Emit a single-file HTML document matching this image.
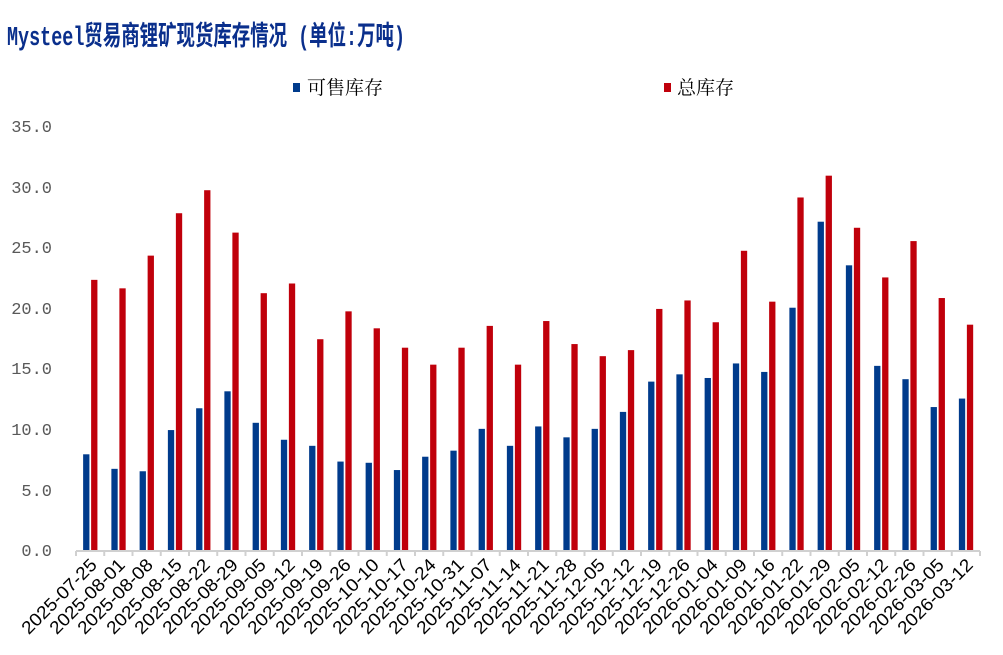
<!DOCTYPE html>
<html><head><meta charset="utf-8"><style>
html,body{margin:0;padding:0;background:#fff;}
svg{display:block;}
</style></head><body>
<svg id="s" width="1003" height="655" xmlns="http://www.w3.org/2000/svg">
<rect width="1003" height="655" fill="#fff"/>
<text x="7" y="45" textLength="398" lengthAdjust="spacingAndGlyphs" font-family="Liberation Mono, Noto Sans CJK SC, sans-serif" font-weight="bold" font-size="27" fill="#0a2f8c">Mysteel贸易商锂矿现货库存情况 (单位:万吨)</text>
<rect x="293" y="83" width="7" height="9" fill="#003b8c"/>
<text x="307" y="94" font-family="Noto Serif CJK SC, serif" font-size="19" fill="#000">可售库存</text>
<rect x="664" y="83" width="7" height="9" fill="#c0000b"/>
<text x="677" y="94" font-family="Noto Serif CJK SC, serif" font-size="19" fill="#000">总库存</text>
<g font-family="Liberation Mono, monospace" font-size="17" fill="#595959" text-anchor="end">
<text x="52" y="132">35.0</text>
<text x="52" y="193">30.0</text>
<text x="52" y="253">25.0</text>
<text x="52" y="314">20.0</text>
<text x="52" y="374">15.0</text>
<text x="52" y="435">10.0</text>
<text x="52" y="496">5.0</text>
<text x="52" y="556">0.0</text>
</g>
<g id="bars"></g>
<g id="axis" stroke="#d0d0d0" stroke-width="2"></g>
<g font-family="Liberation Sans, sans-serif" font-size="18" fill="#000" text-anchor="end">
<text transform="translate(98,566) rotate(-45)" textLength="98" lengthAdjust="spacingAndGlyphs">2025-07-25</text>
<text transform="translate(126,566) rotate(-45)" textLength="98" lengthAdjust="spacingAndGlyphs">2025-08-01</text>
<text transform="translate(154,566) rotate(-45)" textLength="98" lengthAdjust="spacingAndGlyphs">2025-08-08</text>
<text transform="translate(183,566) rotate(-45)" textLength="98" lengthAdjust="spacingAndGlyphs">2025-08-15</text>
<text transform="translate(211,566) rotate(-45)" textLength="98" lengthAdjust="spacingAndGlyphs">2025-08-22</text>
<text transform="translate(239,566) rotate(-45)" textLength="98" lengthAdjust="spacingAndGlyphs">2025-08-29</text>
<text transform="translate(267,566) rotate(-45)" textLength="98" lengthAdjust="spacingAndGlyphs">2025-09-05</text>
<text transform="translate(296,566) rotate(-45)" textLength="98" lengthAdjust="spacingAndGlyphs">2025-09-12</text>
<text transform="translate(324,566) rotate(-45)" textLength="98" lengthAdjust="spacingAndGlyphs">2025-09-19</text>
<text transform="translate(352,566) rotate(-45)" textLength="98" lengthAdjust="spacingAndGlyphs">2025-09-26</text>
<text transform="translate(380,566) rotate(-45)" textLength="98" lengthAdjust="spacingAndGlyphs">2025-10-10</text>
<text transform="translate(409,566) rotate(-45)" textLength="98" lengthAdjust="spacingAndGlyphs">2025-10-17</text>
<text transform="translate(437,566) rotate(-45)" textLength="98" lengthAdjust="spacingAndGlyphs">2025-10-24</text>
<text transform="translate(465,566) rotate(-45)" textLength="98" lengthAdjust="spacingAndGlyphs">2025-10-31</text>
<text transform="translate(493,566) rotate(-45)" textLength="98" lengthAdjust="spacingAndGlyphs">2025-11-07</text>
<text transform="translate(522,566) rotate(-45)" textLength="98" lengthAdjust="spacingAndGlyphs">2025-11-14</text>
<text transform="translate(550,566) rotate(-45)" textLength="98" lengthAdjust="spacingAndGlyphs">2025-11-21</text>
<text transform="translate(578,566) rotate(-45)" textLength="98" lengthAdjust="spacingAndGlyphs">2025-11-28</text>
<text transform="translate(606,566) rotate(-45)" textLength="98" lengthAdjust="spacingAndGlyphs">2025-12-05</text>
<text transform="translate(635,566) rotate(-45)" textLength="98" lengthAdjust="spacingAndGlyphs">2025-12-12</text>
<text transform="translate(663,566) rotate(-45)" textLength="98" lengthAdjust="spacingAndGlyphs">2025-12-19</text>
<text transform="translate(691,566) rotate(-45)" textLength="98" lengthAdjust="spacingAndGlyphs">2025-12-26</text>
<text transform="translate(719,566) rotate(-45)" textLength="98" lengthAdjust="spacingAndGlyphs">2026-01-04</text>
<text transform="translate(748,566) rotate(-45)" textLength="98" lengthAdjust="spacingAndGlyphs">2026-01-09</text>
<text transform="translate(776,566) rotate(-45)" textLength="98" lengthAdjust="spacingAndGlyphs">2026-01-16</text>
<text transform="translate(804,566) rotate(-45)" textLength="98" lengthAdjust="spacingAndGlyphs">2026-01-22</text>
<text transform="translate(832,566) rotate(-45)" textLength="98" lengthAdjust="spacingAndGlyphs">2026-01-29</text>
<text transform="translate(861,566) rotate(-45)" textLength="98" lengthAdjust="spacingAndGlyphs">2026-02-05</text>
<text transform="translate(889,566) rotate(-45)" textLength="98" lengthAdjust="spacingAndGlyphs">2026-02-12</text>
<text transform="translate(917,566) rotate(-45)" textLength="98" lengthAdjust="spacingAndGlyphs">2026-02-26</text>
<text transform="translate(945,566) rotate(-45)" textLength="98" lengthAdjust="spacingAndGlyphs">2026-03-05</text>
<text transform="translate(974,566) rotate(-45)" textLength="98" lengthAdjust="spacingAndGlyphs">2026-03-12</text>
</g>
</svg>
<script>
var B=[7.9,6.7,6.5,9.9,11.7,13.1,10.5,9.1,8.6,7.3,7.2,6.6,7.7,8.2,10.0,8.6,10.2,9.3,10.0,11.4,13.9,14.5,14.2,15.4,14.7,20.0,27.1,23.5,15.2,14.1,11.8,12.5];
var R=[22.3,21.6,24.3,27.8,29.7,26.2,21.2,22.0,17.4,19.7,18.3,16.7,15.3,16.7,18.5,15.3,18.9,17.0,16.0,16.5,19.9,20.6,18.8,24.7,20.5,29.1,30.9,26.6,22.5,25.5,20.8,18.6];
var ns="http://www.w3.org/2000/svg",g=document.getElementById('bars'),a=document.getElementById('axis');
function r(p,x,y,w,h,f){var e=document.createElementNS(ns,'rect');e.setAttribute('x',x);e.setAttribute('y',y);e.setAttribute('width',w);e.setAttribute('height',h);e.setAttribute('fill',f);p.appendChild(e);}
function l(x1,y1,x2,y2){var e=document.createElementNS(ns,'line');e.setAttribute('x1',x1);e.setAttribute('y1',y1);e.setAttribute('x2',x2);e.setAttribute('y2',y2);a.appendChild(e);}
var k=12.114,w=28.25;
for(var i=0;i<32;i++){var cx=76+w*(i+0.5);
r(g,cx-7,550-B[i]*k,6.3,B[i]*k,'#003b8c');
r(g,cx+1,550-R[i]*k,6.3,R[i]*k,'#c0000b');}
l(76,551,980,551);
for(var i=0;i<=32;i++){var x=76+w*i;l(x,551,x,556);}
</script>
</body></html>
